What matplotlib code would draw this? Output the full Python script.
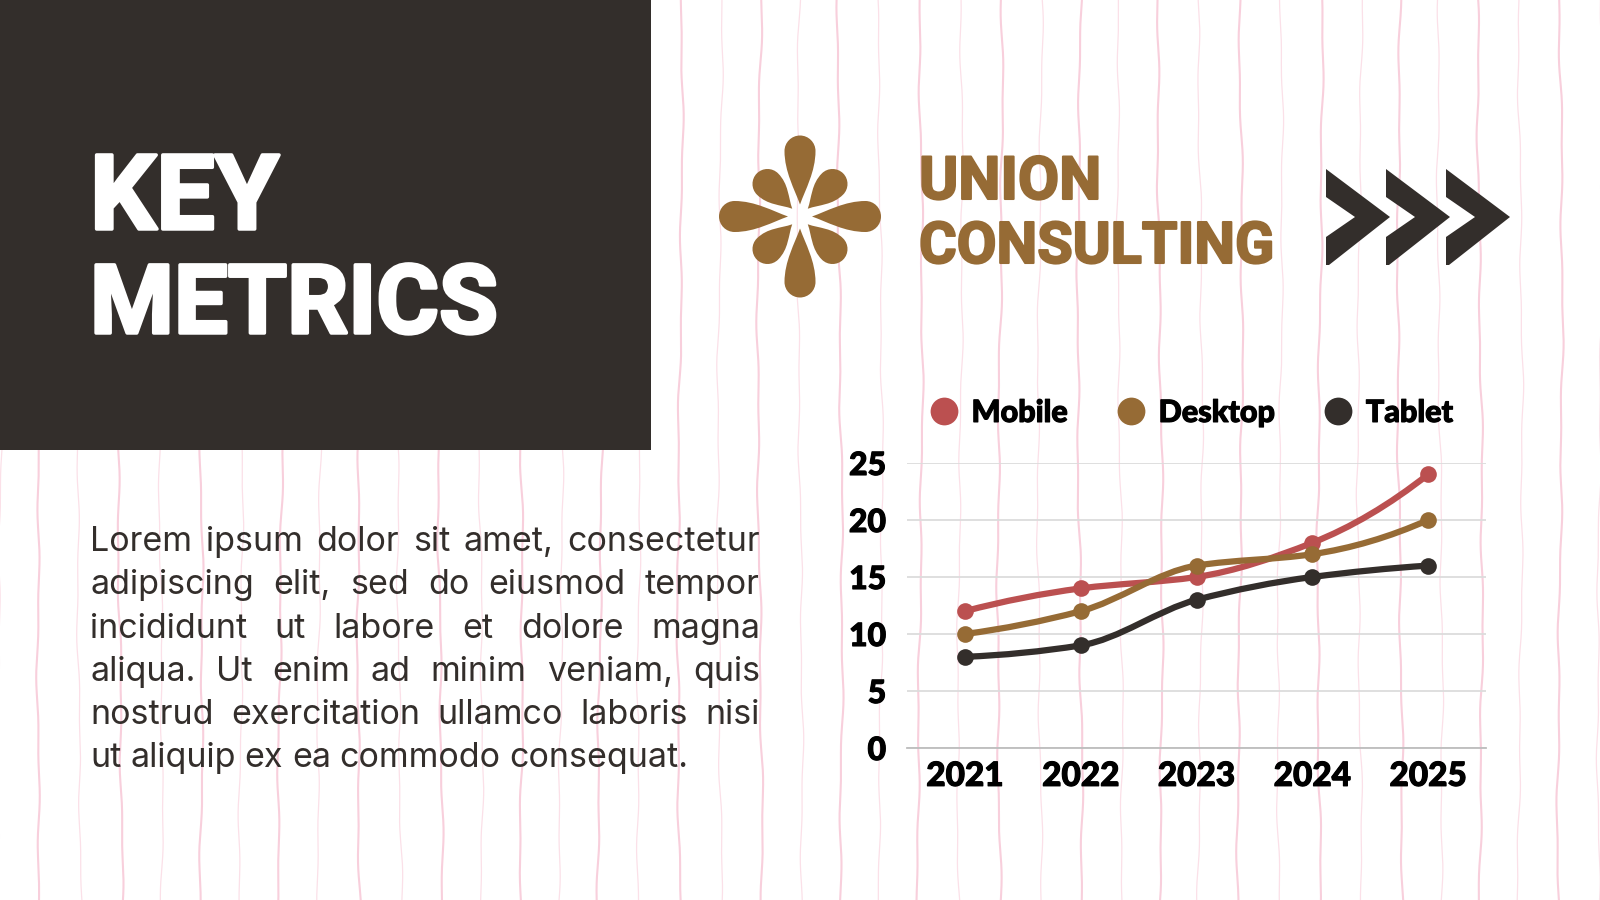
#!/usr/bin/env python3
import numpy as np
import matplotlib
matplotlib.use("Agg")
import matplotlib.pyplot as plt
import matplotlib.patheffects as pe
from matplotlib.lines import Line2D
from matplotlib.patches import PathPatch, Polygon, Rectangle
from matplotlib.path import Path
from matplotlib.transforms import Affine2D

years = ["2021", "2022", "2023", "2024", "2025"]
mobile = [12, 14, 15, 18, 24]
desktop = [10, 12, 16, 17, 20]
tablet = [8, 9, 13, 15, 16]
y_ticks = [0, 5, 10, 15, 20, 25]
series_names = ["Mobile", "Desktop", "Tablet"]

body_lines = [
    "Lorem ipsum dolor sit amet, consectetur",
    "adipiscing elit, sed do eiusmod tempor",
    "incididunt ut labore et dolore magna",
    "aliqua. Ut enim ad minim veniam, quis",
    "nostrud exercitation ullamco laboris nisi",
    "ut aliquip ex ea commodo consequat.",
]

DARK = "#332e2b"
BROWN = "#966b35"
RED = "#bb5050"
PINK = "#f8cfdc"
HEAD_FONT = "Roboto"
LABEL_FONT = "Lato"
BODY_FONT = "Inter"


def heavy(t, width, color):
    # the fonts at hand are lighter than the original, so fatten with a stroke
    t.set_path_effects([pe.withStroke(linewidth=width, foreground=color)])
    return t


def draw_background(bg):
    # wavy pink stripes every 40 px, thick and thin in turn
    yy = np.linspace(0, 900, 500)
    for i, x0 in enumerate(range(0, 1601, 40)):
        wob = (1.0 * np.sin(yy / 31 + i * 1.7)
               + 0.6 * np.sin(yy / 13 + i * 2.9)
               + 2.2 * np.sin(yy / 170 + i * 0.8))
        if i % 2:
            bg.plot(x0 + wob, yy, color=PINK, lw=1.5, zorder=1)
        else:
            bg.plot(x0 + wob, yy, color="#fbe0e8", lw=0.9, zorder=1)


def petal(angle, r0, r1, w):
    L = r1 - r0
    verts = [
        (0, -r0),
        (-w * 0.35, -r0 - L * 0.22), (-w, -r1 + w + L * 0.3), (-w, -r1 + w),
        (-w, -r1 + w * 0.45), (-w * 0.55, -r1), (0, -r1),
        (w * 0.55, -r1), (w, -r1 + w * 0.45), (w, -r1 + w),
        (w, -r1 + w + L * 0.3), (w * 0.35, -r0 - L * 0.22), (0, -r0),
        (0, -r0),
    ]
    codes = [Path.MOVETO] + [Path.CURVE4] * 12 + [Path.CLOSEPOLY]
    return Path(verts, codes).transformed(Affine2D().rotate_deg(angle).translate(800, 216.5))


def draw_logo(bg):
    for ang in (0, 90, 180, 270):
        bg.add_patch(PathPatch(petal(ang, 12, 81, 15.5), fc=BROWN, ec="none", zorder=3))
    for ang in (45, 135, 225, 315):
        bg.add_patch(PathPatch(petal(ang, 11, 61, 15), fc=BROWN, ec="none", zorder=3))
    for x0 in (1326, 1386, 1446):
        pts = [(x0, 169), (x0 + 64, 217), (x0 + 3, 265), (x0, 265),
               (x0, 237), (x0 + 29, 217), (x0, 197)]
        bg.add_patch(Polygon(pts, closed=True, fc=DARK, ec="none", zorder=3))


def justified(fig, bg, lines, x0, x1, baselines, size):
    renderer = fig.canvas.get_renderer()
    for k, (line, base) in enumerate(zip(lines, baselines)):
        words = line.split(" ")
        items = [bg.text(x0, base, w, fontsize=size, family=BODY_FONT, color=DARK,
                         va="baseline", ha="left", zorder=4) for w in words]
        widths = [t.get_window_extent(renderer).width for t in items]
        if k == len(lines) - 1:
            gap = size * 0.36
        else:
            gap = (x1 - x0 - sum(widths)) / (len(words) - 1)
        x = x0
        for t, w in zip(items, widths):
            t.set_x(x)
            x += w + gap


def smooth_path(ys):
    # monotone cubic through the values, kept as bezier segments
    y = np.asarray(ys, float)
    x = np.arange(len(y))
    d = np.diff(y)
    m = np.zeros(len(y))
    for i in range(1, len(y) - 1):
        m[i] = 2 * d[i - 1] * d[i] / (d[i - 1] + d[i]) if d[i - 1] * d[i] > 0 else 0
    m[0] = 2 * d[0] - m[1]
    m[-1] = 2 * d[-1] - m[-2]
    verts = [(x[0], y[0])]
    codes = [Path.MOVETO]
    for i in range(len(y) - 1):
        verts += [(x[i] + 1 / 3, y[i] + m[i] / 3), (x[i + 1] - 1 / 3, y[i + 1] - m[i + 1] / 3), (x[i + 1], y[i + 1])]
        codes += [Path.CURVE4] * 3
    return Path(verts, codes)


def main():
    fig = plt.figure(figsize=(16, 9), dpi=100, facecolor="white")
    bg = fig.add_axes([0, 0, 1, 1])
    bg.set_xlim(0, 1600)
    bg.set_ylim(900, 0)
    bg.axis("off")

    draw_background(bg)
    bg.add_patch(Rectangle((0, 0), 651, 450, fc=DARK, ec="none", zorder=2))
    for txt, y, size in (("KEY", 229, 75), ("METRICS", 333, 69)):
        heavy(bg.text(90, y, txt, color="white", fontsize=size, family=HEAD_FONT, weight="bold",
                      va="baseline", zorder=4), 2.5, "white")
    for txt, y, size in (("UNION", 199, 43), ("CONSULTING", 263, 41.5)):
        heavy(bg.text(919, y, txt, color=BROWN, fontsize=size, family=HEAD_FONT, weight="bold",
                      va="baseline", zorder=4), 1.5, BROWN)
    draw_logo(bg)
    justified(fig, bg, body_lines, 90, 760, [551, 594, 638, 681, 724.5, 767], 24.5)

    ax = fig.add_axes([907 / 1600, 1 - 748 / 900, (1486 - 907) / 1600, (748 - 463) / 900])
    ax.patch.set_alpha(0)
    ax.set_xlim(-0.5, 4.5)
    ax.set_ylim(0, 25)
    ax.set_xticks(range(len(years)), years)
    ax.set_yticks(y_ticks)
    ax.grid(axis="y", color="#dcdcdc", lw=1.3)
    ax.set_axisbelow(True)
    for side in ("top", "left", "right"):
        ax.spines[side].set_visible(False)
    ax.spines["bottom"].set_color("#bdbdbd")
    ax.spines["bottom"].set_linewidth(1.3)
    ax.tick_params(length=0)
    ax.tick_params(axis="x", pad=10)
    ax.tick_params(axis="y", pad=15)
    for t in ax.get_yticklabels():
        t.set_family(LABEL_FONT)
        t.set_weight("black")
        t.set_fontsize(23)
        t.set_color("black")
        heavy(t, 0.8, "black")
    for t in ax.get_xticklabels():
        t.set_family(LABEL_FONT)
        t.set_weight("black")
        t.set_fontsize(24)
        t.set_color("black")
        heavy(t, 0.8, "black")

    colors = [RED, BROWN, DARK]
    xs = range(len(years))
    for vals, col in zip([mobile, desktop, tablet], colors):
        ax.add_patch(PathPatch(smooth_path(vals), fc="none", ec=col, lw=4.5, capstyle="round", clip_on=False))
        ax.plot(xs, vals, "o", color=col, ms=12, mew=0, clip_on=False)

    handles = [Line2D([], [], ls="none", marker="o", ms=20, mew=0, color=c) for c in colors]
    leg = ax.legend(handles, series_names, ncol=3, frameon=False, loc="lower left",
                    bbox_to_anchor=(-0.01, 1.03), columnspacing=1.58, handlelength=1.0, handletextpad=0.4,
                    prop={"family": LABEL_FONT, "weight": "black", "size": 22})
    for t in leg.get_texts():
        t.set_color("black")
        heavy(t, 0.8, "black")

    fig.savefig("out.png", dpi=fig.dpi, facecolor=fig.get_facecolor())
    plt.close(fig)


if __name__ == "__main__":
    main()
